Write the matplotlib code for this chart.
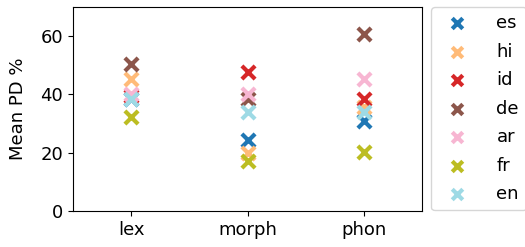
import matplotlib
matplotlib.use("Agg")
import matplotlib.pyplot as plt

categories = ["lex", "morph", "phon"]
languages = ["es", "hi", "id", "de", "ar", "fr", "en"]
es = [38.5, 24.3, 31.0]
hi = [45.3, 19.8, 35.8]
id_ = [39.5, 47.8, 38.6]
de = [50.6, 38.6, 60.9]
ar = [40.3, 40.3, 45.3]
fr = [32.3, 17.2, 20.1]
en = [38.5, 33.8, 34.0]
series = [es, hi, id_, de, ar, fr, en]
colors = ["#1f77b4", "#ffbb78", "#d62728", "#8c564b", "#f7b6d2", "#bcbd22", "#9edae5"]

plt.rcParams["font.size"] = 13
fig = plt.figure(figsize=(5.25, 2.47), dpi=100)
ax = fig.add_axes([73/525, 36/247, 349/525, 204/247])
x = list(range(len(categories)))
for lang, vals, c in zip(languages, series, colors):
    ax.scatter(x, vals, marker="x", s=90, linewidths=3, color=c, label=lang)

ax.set_xticks(x)
ax.set_xticklabels(categories)
ax.set_xlim(-0.5, 2.5)
ax.set_ylim(0, 70)
ax.set_yticks([0, 20, 40, 60])
ax.set_ylabel("Mean PD %", labelpad=10)
ax.legend(loc="upper left", bbox_to_anchor=(1.027, 1.0), borderaxespad=0,
          markerscale=0.8, labelspacing=0.58, handletextpad=1.2)
fig.savefig("out.png", dpi=100)
